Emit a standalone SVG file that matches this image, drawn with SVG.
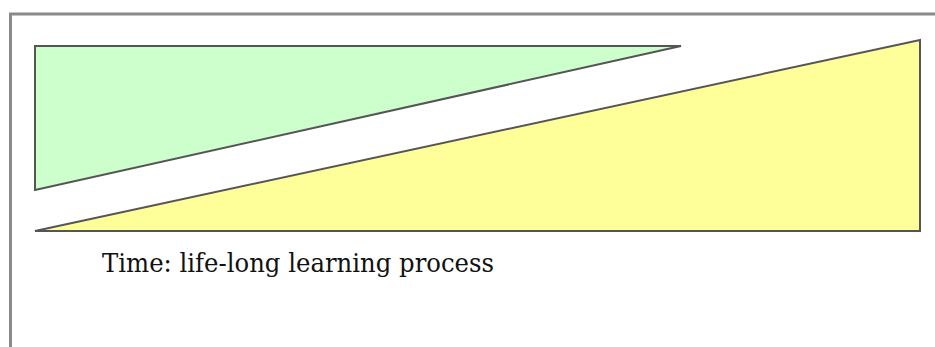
<svg xmlns="http://www.w3.org/2000/svg" width="935" height="347" viewBox="0 0 935 347">
  <style>
    .frame { fill: none; stroke: #8a8a8a; stroke-width: 3; }
    .wedge { stroke: #555; stroke-width: 2; stroke-linejoin: miter; }
    .label { font-family: "DejaVu Serif", "Liberation Serif", serif; font-size: 26px; fill: #111; }
  </style>
  <rect width="935" height="347" fill="#ffffff"/>
  <!-- page frame: top and left edges -->
  <path class="frame" d="M10.5 347 V14 H935"/>
  <g id="wedge-green">
    <polygon class="wedge" fill="#ccffcc" points="35,46 681,46 35,190"/>
  </g>
  <g id="wedge-yellow">
    <polygon class="wedge" fill="#ffff99" points="35,231 920,40 920,231"/>
  </g>
  <g id="caption">
    <text class="label" x="102" y="272" textLength="392" lengthAdjust="spacingAndGlyphs">Time: life-long learning process</text>
  </g>
</svg>
